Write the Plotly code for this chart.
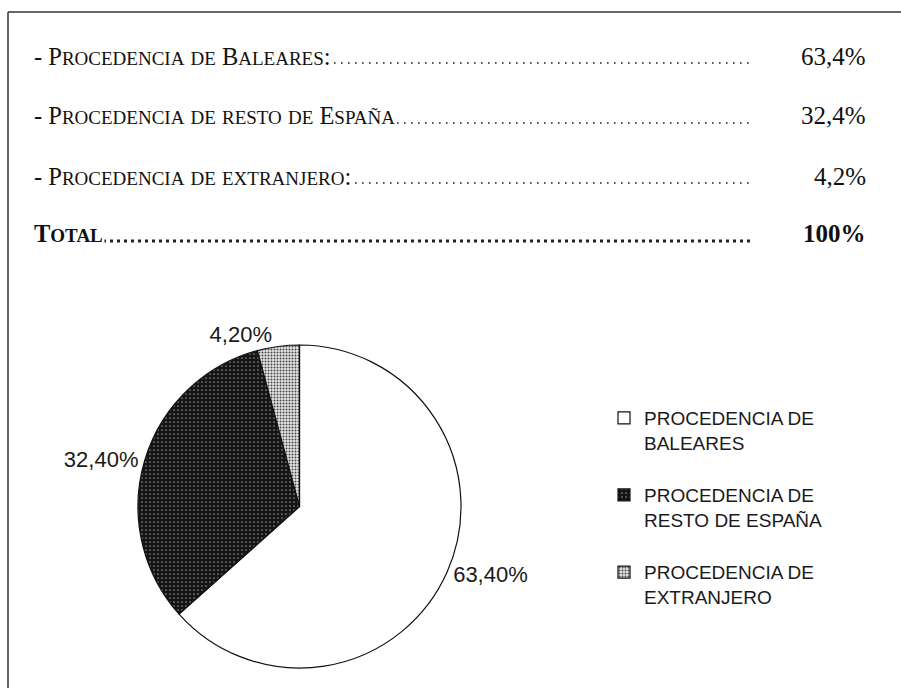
import plotly.graph_objects as go

W, H = 901, 688

# ---- data ----
row_labels = ["- Procedencia de Baleares:", "- Procedencia de resto de España",
              "- Procedencia de extranjero:", "Total"]
row_values = ["63,4%", "32,4%", "4,2%", "100%"]

categories = ["PROCEDENCIA DE BALEARES", "PROCEDENCIA DE RESTO DE ESPAÑA",
              "PROCEDENCIA DE EXTRANJERO"]
values = [63.4, 32.4, 4.2]

BIG, SMALL = 24.5, 19


def px(x):
    return x / W


def py(y):
    return 1 - y / H


def small_caps(text):
    """Emulate true small caps: capitals at full size, lower case as smaller capitals."""
    out = []
    buf = ""
    for ch in text:
        if ch.islower():
            buf += ch.upper()
        else:
            if buf:
                out.append("<span style='font-size:%spx'>%s</span>" % (SMALL, buf))
                buf = ""
            out.append(ch)
    if buf:
        out.append("<span style='font-size:%spx'>%s</span>" % (SMALL, buf))
    return "".join(out)


def legend_label(c):
    words = c.split(" ")
    return " ".join(words[:2]) + "<br>" + " ".join(words[2:]) + "<br> "


fig = go.Figure()
fig.add_trace(go.Pie(
    labels=[legend_label(c) for c in categories],
    values=values,
    sort=False,
    direction="clockwise",
    rotation=0,
    textposition="outside",
    texttemplate="%{percent:.2%}",
    textfont=dict(family="Liberation Sans, Arial", size=22, color="#1a1a1a"),
    marker=dict(
        colors=["white", "#151515", "#d0d0d0"],
        line=dict(color="#111", width=1.2),
        pattern=dict(shape=["", ".", "."],
                     fgcolor=["white", "#8a8a8a", "#444"],
                     bgcolor=["white", "#151515", "#e6e6e6"],
                     size=[4, 4, 3],
                     solidity=[0.1, 0.15, 0.35],
                     fillmode="replace"),
    ),
    domain=dict(x=[px(138), px(461)], y=[py(668), py(345)]),
    showlegend=True,
))

shapes = [
    dict(type="line", xref="paper", yref="paper", x0=px(8), x1=1, y0=py(12), y1=py(12),
         line=dict(color="#333", width=1.5)),
    dict(type="line", xref="paper", yref="paper", x0=px(8), x1=px(8), y0=0, y1=py(12),
         line=dict(color="#333", width=1.5)),
]

row_y = [56, 116, 176, 234]
annotations = []
for i, (lab, val) in enumerate(zip(row_labels, row_values)):
    y = row_y[i]
    bold = (i == 3)
    shapes.append(dict(type="line", xref="paper", yref="paper",
                       x0=px(40), x1=px(750), y0=py(y + 7), y1=py(y + 7),
                       line=dict(color="#222", width=3 if bold else 1.6,
                                 dash="3px,4px" if bold else "1.6px,5.4px")))
    txt = small_caps(lab)
    annotations.append(dict(
        text=("<b>%s</b>" % txt) if bold else txt,
        x=px(32), y=py(y), xref="paper", yref="paper",
        xanchor="left", yanchor="middle", showarrow=False,
        bgcolor="white", borderpad=1,
        font=dict(family="Liberation Serif, DejaVu Serif", size=BIG, color="#111"),
    ))
    annotations.append(dict(
        text=("<b>%s</b>" % val) if bold else val,
        x=px(868), y=py(y), xref="paper", yref="paper",
        xanchor="right", yanchor="middle", showarrow=False,
        font=dict(family="Liberation Serif, DejaVu Serif", size=25, color="#111"),
    ))

fig.update_layout(
    width=W, height=H,
    margin=dict(l=0, r=0, t=0, b=0),
    paper_bgcolor="white",
    plot_bgcolor="white",
    separators=",.",
    shapes=shapes,
    annotations=annotations,
    legend=dict(x=px(604), y=py(399), xanchor="left", yanchor="top",
                valign="top",
                font=dict(family="Liberation Sans, Arial", size=19, color="#1a1a1a"),
                bgcolor="rgba(0,0,0,0)"),
)

fig.write_html("out.html", config={"displayModeBar": False},
               post_script="document.body.style.margin='0';")
